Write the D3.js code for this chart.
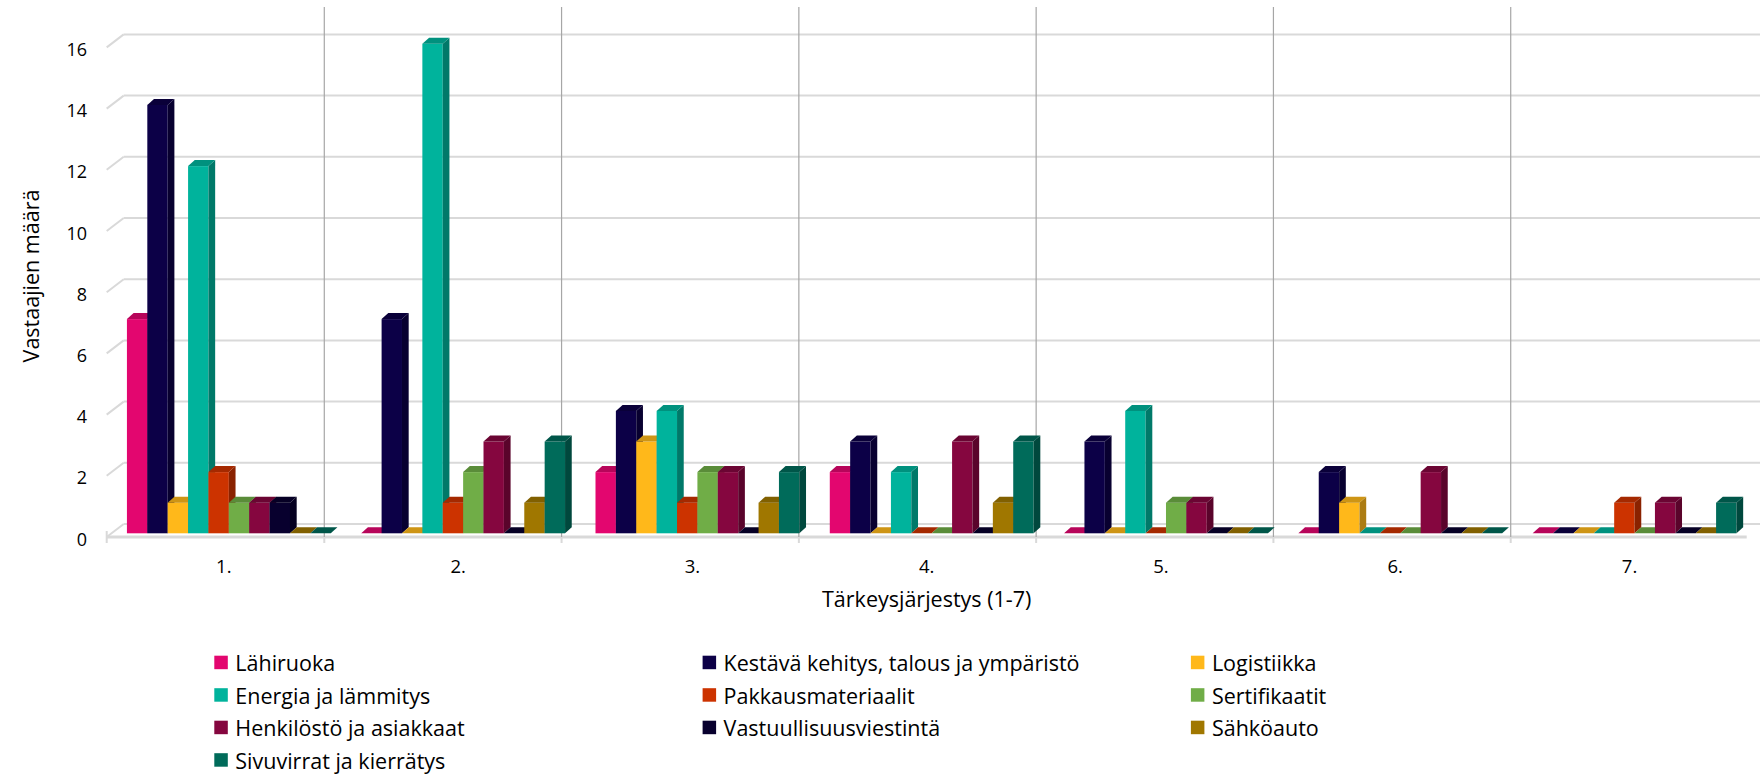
<!DOCTYPE html>
<html><head><meta charset="utf-8">
<script src="https://cdn.jsdelivr.net/npm/d3@7/dist/d3.min.js"></script>
<style>html,body{margin:0;padding:0;background:#fff;overflow:hidden}svg{display:block}</style>
</head><body>
<script>
// ---- data ----
const categories = ["1.", "2.", "3.", "4.", "5.", "6.", "7."];
const seriesNames = ["Lähiruoka", "Kestävä kehitys, talous ja ympäristö", "Logistiikka",
  "Energia ja lämmitys", "Pakkausmateriaalit", "Sertifikaatit",
  "Henkilöstö ja asiakkaat", "Vastuullisuusviestintä", "Sähköauto", "Sivuvirrat ja kierrätys"];
const seriesColors = ["#E3066F", "#0C0047", "#FFB81A", "#00B39C", "#CC3300", "#70AD47",
  "#85063F", "#08002E", "#A07700", "#006B5A"];
const lahiruoka     = [7, 0, 2, 2, 0, 0, 0];
const kestava       = [14, 7, 4, 3, 3, 2, 0];
const logistiikka   = [1, 0, 3, 0, 0, 1, 0];
const energia       = [12, 16, 4, 2, 4, 0, 0];
const pakkaus       = [2, 1, 1, 0, 0, 0, 1];
const sertifikaatit = [1, 2, 2, 0, 1, 0, 0];
const henkilosto    = [1, 3, 2, 3, 1, 2, 1];
const vastuu        = [1, 0, 0, 0, 0, 0, 0];
const sahkoauto     = [0, 1, 1, 1, 0, 0, 0];
const sivuvirrat    = [0, 3, 2, 3, 0, 0, 1];
const yTicks = [0, 2, 4, 6, 8, 10, 12, 14, 16];
const yTitle = "Vastaajien määrä";
const xTitle = "Tärkeysjärjestys (1-7)";

const seriesValues = [lahiruoka, kestava, logistiikka, energia, pakkaus, sertifikaatit,
  henkilosto, vastuu, sahkoauto, sivuvirrat];

// ---- layout ----
const W = 1760, H = 776;
const FONT = "'Open Sans', Lato, sans-serif";
const frontLeft = 106.7, frontRight = 1746.7, floorY = 537;
const wallDx = 17, wallDy = -13;     // depth of the floor/back wall
const barDx = 5, barDy = -3.7;       // bar plane position in depth
const bDx = 6.7, bDy = -6;           // bar thickness in depth

const svg = d3.select("body").append("svg").attr("width", W).attr("height", H);

const y = d3.scaleLinear().domain([0, 16]).range([floorY, floorY - 16 * 30.6]);
const x0 = d3.scaleBand().domain(categories).range([frontLeft, frontRight])
  .paddingInner(0.13).paddingOuter(0.065);
const x1 = d3.scaleBand().domain(seriesNames).range([0, x0.bandwidth()]);
const xv = d3.scaleLinear().domain([0, 7]).range([87, 1748]);

// gridlines (back wall + left side wall)
const grid = svg.append("g");
yTicks.forEach(v => {
  grid.append("line")
    .attr("x1", frontLeft + wallDx).attr("x2", W)
    .attr("y1", y(v) + wallDy).attr("y2", y(v) + wallDy)
    .attr("stroke", "#d9d9d9").attr("stroke-width", 2);
  grid.append("line")
    .attr("x1", frontLeft).attr("x2", frontLeft + wallDx)
    .attr("y1", y(v)).attr("y2", y(v) + wallDy)
    .attr("stroke", "#d9d9d9").attr("stroke-width", 2);
});
// floor front edge
grid.append("line").attr("x1", frontLeft).attr("x2", frontRight)
  .attr("y1", floorY).attr("y2", floorY)
  .attr("stroke", "#d9d9d9").attr("stroke-width", 3);
// category ticks
grid.append("line").attr("x1", frontLeft).attr("x2", frontLeft)
  .attr("y1", floorY - 6).attr("y2", floorY + 6)
  .attr("stroke", "#d9d9d9").attr("stroke-width", 2);
d3.range(1, 7).forEach(k => {
  grid.append("line").attr("x1", xv(k)).attr("x2", xv(k))
    .attr("y1", floorY).attr("y2", floorY + 6)
    .attr("stroke", "#d9d9d9").attr("stroke-width", 2);
});

// vertical category separators
const vlines = svg.append("g");
d3.range(1, 7).forEach(k => {
  vlines.append("line").attr("x1", xv(k)).attr("x2", xv(k))
    .attr("y1", 7).attr("y2", floorY)
    .attr("stroke", "#a6a6a6").attr("stroke-width", 1.2);
});

// bars (painter's order: left to right)
const bars = svg.append("g");
const w = x1.bandwidth();
categories.forEach((c, ci) => {
  seriesNames.forEach((s, si) => {
    const v = seriesValues[si][ci];
    const col = d3.color(seriesColors[si]);
    const x = x0(c) + x1(s) + barDx;
    const base = y(0) + barDy;
    const top = y(v) + barDy;
    const g = bars.append("g");
    if (v > 0) {
      g.append("rect").attr("x", x).attr("y", top).attr("width", w).attr("height", base - top)
        .attr("fill", col.formatHex());
      g.append("polygon")
        .attr("points", [[x + w, top], [x + w + bDx, top + bDy], [x + w + bDx, base + bDy], [x + w, base]].join(" "))
        .attr("fill", col.darker(1.1).formatHex());
    }
    g.append("polygon")
      .attr("points", [[x, top], [x + w, top], [x + w + bDx, top + bDy], [x + bDx, top + bDy]].join(" "))
      .attr("fill", col.darker(0.6).formatHex());
  });
});

// y tick labels
svg.append("g").selectAll("text").data(yTicks).join("text")
  .attr("x", 87).attr("y", d => y(d) + 1.5)
  .attr("text-anchor", "end").attr("dominant-baseline", "central")
  .attr("font-family", FONT).attr("font-size", 18).attr("fill", "#000")
  .text(d => d);

// category labels
svg.append("g").selectAll("text").data(categories).join("text")
  .attr("x", d => x0(d) + x0.bandwidth() / 2).attr("y", 565)
  .attr("text-anchor", "middle").attr("dominant-baseline", "central")
  .attr("font-family", FONT).attr("font-size", 18.5).attr("fill", "#000")
  .text(d => d);

// axis titles
svg.append("text").attr("x", (frontLeft + frontRight) / 2).attr("y", 598)
  .attr("text-anchor", "middle").attr("dominant-baseline", "central")
  .attr("font-family", FONT).attr("font-size", 21.5).attr("fill", "#000").text(xTitle);
svg.append("text").attr("transform", "translate(30,276) rotate(-90)")
  .attr("text-anchor", "middle").attr("dominant-baseline", "central")
  .attr("font-family", FONT).attr("font-size", 21.5).attr("fill", "#000").text(yTitle);

// legend
const legCols = [214.3, 702.6, 1190.9];
const legRow0 = 662.7, legRowStep = 32.5;
const leg = svg.append("g").selectAll("g").data(seriesNames).join("g")
  .attr("transform", (d, i) => `translate(${legCols[i % 3]},${legRow0 + Math.floor(i / 3) * legRowStep})`);
leg.append("rect").attr("x", 0).attr("y", -7).attr("width", 13.5).attr("height", 13.5)
  .attr("fill", (d, i) => seriesColors[i]);
leg.append("text").attr("x", 21).attr("y", 0).attr("dominant-baseline", "central")
  .attr("font-family", FONT).attr("font-size", 21.5).attr("fill", "#000").text(d => d);
</script>
</body></html>
